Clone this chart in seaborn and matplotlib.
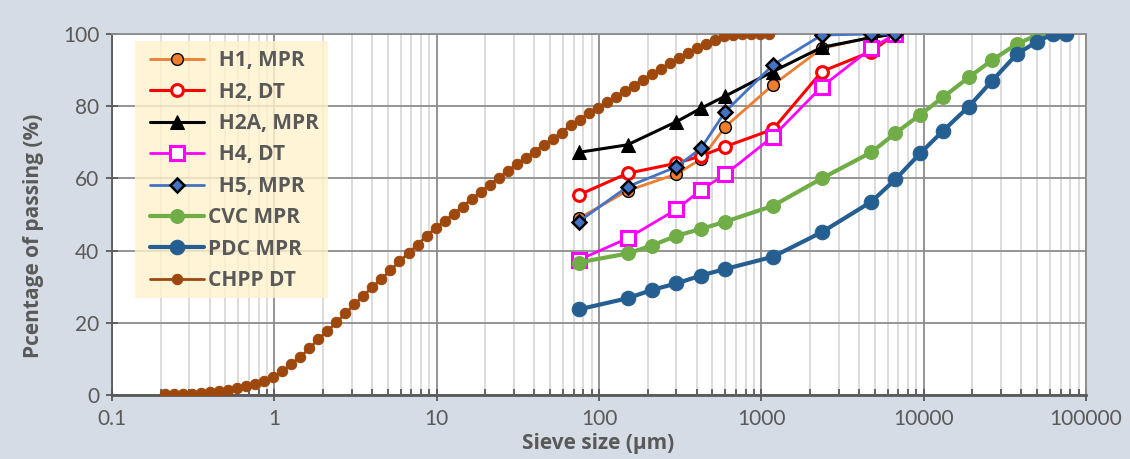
import matplotlib
matplotlib.use("Agg")
import matplotlib.pyplot as plt
import matplotlib.ticker as mticker
from matplotlib.patches import Rectangle
import seaborn as sns
import numpy as np

# ---------------- data ----------------
sieve_h = [75, 150, 300, 425, 600, 1180, 2360, 4750, 6700]
h1_mpr = [48.9, 56.6, 61.2, 65.3, 74.3, 85.9, 96.0, 99.1, 100]
h2_dt = [55.4, 61.4, 64.2, 66.2, 68.8, 73.6, 89.6, 95.1, 100]
h2a_mpr = [67.2, 69.3, 75.7, 79.4, 82.8, 89.6, 96.3, 99.0, 100]
h4_dt = [37.4, 43.4, 51.4, 56.8, 61.1, 71.6, 85.4, 96.0, 100]
h5_mpr = [48.0, 57.7, 63.2, 68.3, 78.5, 91.4, 99.7, 100, 100]

sieve_cvc = [75, 150, 212, 300, 425, 600, 1180, 2360, 4750, 6700, 9500,
             13200, 19000, 26500, 37500, 50000]
cvc_mpr = [36.7, 39.2, 41.4, 44.1, 46.0, 48.0, 52.4, 60.0, 67.2, 72.5, 77.6,
           82.5, 88.0, 92.8, 97.2, 99.7]

sieve_pdc = [75, 150, 212, 300, 425, 600, 1180, 2360, 4750, 6700, 9500,
             13200, 19000, 26500, 37500, 50000, 63000, 75000]
pdc_mpr = [23.7, 26.8, 29.1, 30.9, 33.1, 34.9, 38.3, 45.1, 53.5, 59.7, 66.9,
           73.2, 79.9, 87.1, 94.4, 97.9, 100, 100]

size_chpp = [0.213, 0.242, 0.275, 0.3125, 0.3551, 0.4035, 0.4585, 0.521,
             0.592, 0.6727, 0.7644, 0.8686, 0.987, 1.1215, 1.2744, 1.4481,
             1.6455, 1.8698, 2.1246, 2.4142, 2.7433, 3.1172, 3.5421, 4.0249,
             4.5735, 5.1968, 5.9052, 6.71, 7.6246, 8.6639, 9.8448, 11.187,
             12.712, 14.444, 16.413, 18.65, 21.192, 24.081, 27.363, 31.093,
             35.331, 40.147, 45.619, 51.837, 58.902, 66.93, 76.053, 86.419,
             98.198, 111.58, 126.79, 144.07, 163.71, 186.02, 211.38, 240.19,
             272.93, 310.13, 352.4, 400.43, 455.01, 517.03, 587.5, 667.58,
             758.57, 861.97, 979.46, 1112.9]
chpp_dt = [0.2, 0.2, 0.3, 0.4, 0.6, 0.75, 1.0, 1.4, 1.85, 2.4, 3.0, 3.95,
           5.1, 6.6, 8.6, 10.6, 12.9,
           15.5, 17.7, 20.1, 22.6, 25.1, 27.5, 29.9, 32.1, 34.6, 37.0, 39.3,
           41.6, 44.0,
           46.2, 48.2, 50.1, 52.2, 54.2, 56.2, 58.2, 60.1, 62.0, 63.9, 65.7,
           67.4, 69.2, 70.9, 72.7,
           74.7, 76.3, 78.0, 79.6, 81.1, 82.6, 84.2, 85.7, 87.3, 88.8, 90.3,
           91.9, 93.3, 94.6, 96.0, 97.3, 98.4, 99.3, 99.7, 99.9, 100, 100, 100]

x_ticks = [0.1, 1, 10, 100, 1000, 10000, 100000]
x_tick_labels = ["0.1", "1", "10", "100", "1000", "10000", "100000"]
y_ticks = [0, 20, 40, 60, 80, 100]

# ---------------- style ----------------
sns.set_theme(style="white")
plt.rcParams["font.family"] = ["Lato", "DejaVu Sans"]
bold_family = ["Open Sans", "DejaVu Sans"]

txt = "#595959"
fig = plt.figure(figsize=(11.3, 4.59), dpi=100)
fig.patch.set_facecolor("#d6dce5")
ax = fig.add_axes([0.0991, 0.1394, 0.8619, 0.7866])
ax.set_facecolor("white")
ax.set_xscale("log")

series = [
    (sieve_h, h1_mpr, "  H1, MPR", dict(color="#ED7D31", marker="o", markersize=8.5,
                                        markerfacecolor="#ED7D31", markeredgecolor="black",
                                        markeredgewidth=1.0, linewidth=2)),
    (sieve_h, h2_dt, "  H2, DT", dict(color="#FF0000", marker="o", markersize=8.5,
                                      markerfacecolor="white", markeredgecolor="#FF0000",
                                      markeredgewidth=2.2, linewidth=2.2)),
    (sieve_h, h2a_mpr, "  H2A, MPR", dict(color="black", marker="^", markersize=9.5,
                                          markerfacecolor="black", markeredgecolor="black",
                                          linewidth=2.2)),
    (sieve_h, h4_dt, "  H4, DT", dict(color="#FF00FF", marker="s", markersize=9.5,
                                      markerfacecolor="white", markeredgecolor="#FF00FF",
                                      markeredgewidth=2.2, linewidth=2)),
    (sieve_h, h5_mpr, "  H5, MPR", dict(color="#4472C4", marker="D", markersize=7,
                                        markerfacecolor="#4472C4", markeredgecolor="black",
                                        markeredgewidth=1.8, linewidth=2)),
    (sieve_cvc, cvc_mpr, "CVC MPR", dict(color="#70AD47", marker="o", markersize=10,
                                         markerfacecolor="#70AD47", markeredgecolor="#70AD47",
                                         linewidth=3)),
    (sieve_pdc, pdc_mpr, "PDC MPR", dict(color="#255E91", marker="o", markersize=10.5,
                                         markerfacecolor="#255E91", markeredgecolor="#255E91",
                                         linewidth=3)),
    (size_chpp, chpp_dt, "CHPP DT", dict(color="#9E480E", marker="o", markersize=7.5,
                                         markerfacecolor="#9E480E", markeredgecolor="#9E480E",
                                         linewidth=2)),
]

for i, (xs, ys, lab, kw) in enumerate(series):
    sns.lineplot(x=xs, y=ys, ax=ax, label=lab, sort=False, estimator=None,
                 zorder=3 + i, **kw)

ax.set_xlim(0.1, 100000)
ax.set_ylim(0, 100)
ax.set_xticks(x_ticks)
ax.set_xticklabels(x_tick_labels)
ax.xaxis.set_minor_locator(mticker.LogLocator(base=10, subs=np.arange(2, 10), numticks=50))
ax.xaxis.set_minor_formatter(mticker.NullFormatter())
ax.set_yticks(y_ticks)

ax.grid(which="major", color="#8c8c8c", linewidth=1.3, zorder=0)
ax.grid(which="minor", axis="x", color="#d9d9d9", linewidth=1.3, zorder=0)
ax.set_axisbelow(True)

for s in ["top", "right"]:
    ax.spines[s].set_color("#8c8c8c")
    ax.spines[s].set_linewidth(1.3)
ax.spines["left"].set_color("#595959")
ax.spines["bottom"].set_color("#595959")
ax.spines["left"].set_linewidth(1.3)
ax.spines["bottom"].set_linewidth(2)

ax.tick_params(axis="both", which="major", direction="inout", length=8, width=1.3,
               color="#595959", labelcolor=txt, labelsize=15)
ax.tick_params(axis="x", which="minor", direction="in", length=4, width=1.3,
               color="#595959", bottom=True)
ax.tick_params(axis="x", which="major", bottom=True, pad=6)
ax.tick_params(axis="y", which="major", left=True, pad=5)

ax.set_xlabel("Sieve size (µm)", fontsize=15, fontweight="bold", color=txt,
              family=bold_family)
ax.set_ylabel("Pcentage of passing (%)", fontsize=15, fontweight="bold", color=txt,
              family=bold_family)
ax.xaxis.set_label_coords(0.499, -0.105)
ax.yaxis.set_label_coords(-0.070, 0.44)

# legend background box (semi-transparent like the original)
ax.add_patch(Rectangle((0.0236, 0.2687), 0.198, 0.712, transform=ax.transAxes,
                       facecolor="#fff2cc", edgecolor="none", alpha=0.8, zorder=2))

leg = ax.legend(loc="upper left", bbox_to_anchor=(0.039, 0.955), borderaxespad=0,
                borderpad=0, frameon=False, handlelength=2.6,
                labelspacing=0.5, handletextpad=0.2,
                prop=dict(family=bold_family, weight="bold", size=15))
for t in leg.get_texts():
    t.set_color(txt)

fig.savefig("out.png", dpi=100, facecolor=fig.get_facecolor())
